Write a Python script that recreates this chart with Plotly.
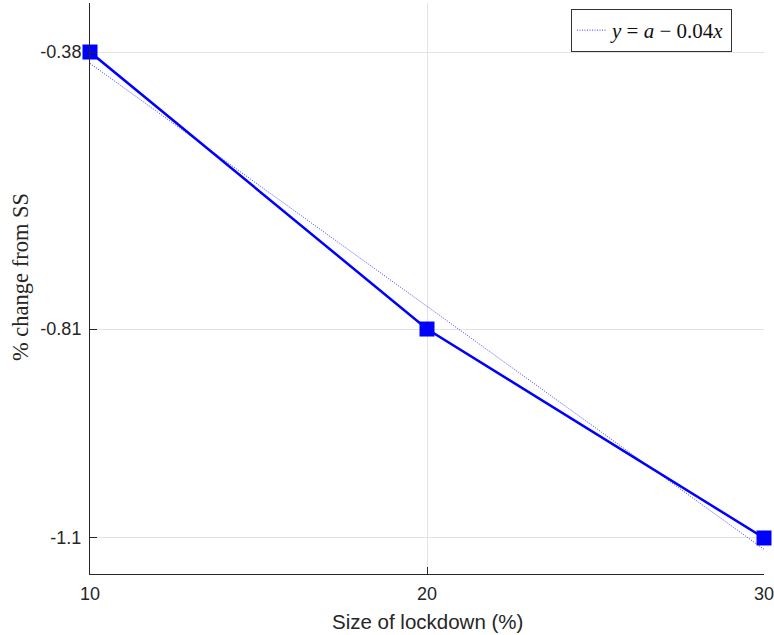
import plotly.graph_objects as go

# Data
lockdown_size = [10, 20, 30]
pct_change = [-0.38, -0.81, -1.1344]
fit_x = [10, 30]
fit_y = [-0.3976, -1.152]
y_tick_vals = [-1.1344, -0.81, -0.38]
y_tick_text = ["-1.1", "-0.81", "-0.38"]
x_tick_vals = [10, 20, 30]

fig = go.Figure()

fig.add_trace(go.Scatter(
    x=fit_x, y=fit_y, mode="lines",
    line=dict(color="rgba(40,40,255,0.9)", width=1, dash="1px,1.5px"),
    name="<i>y</i> = <i>a</i> − 0.04<i>x</i>",
    showlegend=True,
))

fig.add_trace(go.Scatter(
    x=lockdown_size, y=pct_change, mode="lines+markers",
    line=dict(color="#0000ff", width=2.5),
    marker=dict(symbol="square", size=15, color="#0000ff"),
    showlegend=False, cliponaxis=False,
))

axis_color = "#262626"
grid_color = "#e3e3e3"

fig.update_layout(
    width=774, height=635,
    margin=dict(l=90, r=10, t=3, b=61),
    plot_bgcolor="white", paper_bgcolor="white",
    font=dict(family="Liberation Sans, Arial, sans-serif", size=18, color=axis_color),
    legend=dict(
        x=0.9525, y=0.9895, xanchor="right", yanchor="top",
        bgcolor="white", bordercolor="#333333", borderwidth=1,
        font=dict(family="Liberation Serif, DejaVu Serif, serif", size=21, color="#111111"),
        itemwidth=30, tracegroupgap=0,
    ),
    xaxis=dict(
        range=[10, 30], tickvals=x_tick_vals,
        ticks="inside", ticklen=7, tickcolor=axis_color,
        showline=True, linecolor=axis_color, linewidth=1,
        showgrid=True, gridcolor=grid_color, gridwidth=1,
        zeroline=False, automargin=False,
        ticklabelstandoff=3, ticklabeloverflow="allow",
    ),
    yaxis=dict(
        range=[-1.1903, -0.3039], tickvals=y_tick_vals, ticktext=y_tick_text,
        ticks="inside", ticklen=7, tickcolor=axis_color,
        showline=True, linecolor=axis_color, linewidth=1,
        showgrid=True, gridcolor=grid_color, gridwidth=1,
        zeroline=False, automargin=False,
        ticklabelstandoff=4, ticklabeloverflow="allow",
    ),
    annotations=[
        dict(text="Size of lockdown (%)", xref="paper", yref="paper",
             x=0.5, y=-0.084, xanchor="center", yanchor="middle", showarrow=False,
             font=dict(family="Liberation Sans, Arial, sans-serif", size=20.5, color=axis_color)),
        dict(text="% change from SS", xref="paper", yref="paper",
             x=-0.1039, y=0.52, xanchor="center", yanchor="middle", showarrow=False,
             textangle=-90,
             font=dict(family="Liberation Serif, DejaVu Serif, serif", size=22.5, color=axis_color)),
    ],
)

fig.write_html("out.html", config={"displayModeBar": False},
               post_script="document.body.style.margin='0';document.body.style.overflow='hidden';")
